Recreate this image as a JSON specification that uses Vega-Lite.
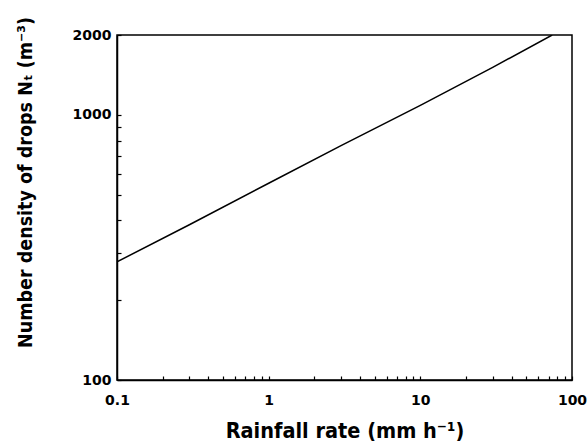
{
  "$schema": "https://vega.github.io/schema/vega-lite/v6.json",
  "width": 455,
  "height": 345,
  "autosize": "none",
  "padding": {"left": 117, "top": 35, "right": 16, "bottom": 63},
  "background": "white",
  "config": {
    "view": {"stroke": "black", "strokeWidth": 1.5},
    "axis": {
      "domainColor": "black",
      "domainWidth": 1.5,
      "tickColor": "black",
      "tickWidth": 1.2,
      "grid": false,
      "labelColor": "black",
      "titleColor": "black",
      "labelFont": "DejaVu Sans",
      "labelFontWeight": "bold",
      "labelFontSize": 14,
      "titleFont": "'DejaVu Sans Condensed', 'Liberation Sans', sans-serif",
      "titleFontWeight": "bold",
      "titleFontSize": 20
    }
  },
  "data": {
    "values": [
      {"rain": 0.1, "n": 279},
      {"rain": 0.3, "n": 385},
      {"rain": 1, "n": 552},
      {"rain": 3, "n": 765},
      {"rain": 10, "n": 1085},
      {"rain": 30, "n": 1510},
      {"rain": 74, "n": 2000}
    ]
  },
  "mark": {"type": "line", "color": "black", "strokeWidth": 1.5, "clip": true},
  "encoding": {
    "x": {
      "field": "rain",
      "type": "quantitative",
      "scale": {"type": "log", "domain": [0.1, 100], "nice": false},
      "axis": {
        "title": "Rainfall rate (mm h\u207B\u00B9)",
        "titleFontSize": 21.5,
        "values": [0.1, 0.2, 0.3, 0.4, 0.5, 0.6, 0.7, 0.8, 0.9, 1, 2, 3, 4, 5, 6, 7, 8, 9, 10, 20, 30, 40, 50, 60, 70, 80, 90, 100],
        "labelExpr": "indexof([0.1, 1, 10, 100], datum.value) >= 0 ? datum.label : ''",
        "format": "~g",
        "tickSize": -4,
        "labelPadding": 17,
        "labelBaseline": "top",
        "labelFlush": false,
        "labelOverlap": false,
        "titleY": 57,
        "titleBaseline": "alphabetic"
      }
    },
    "y": {
      "field": "n",
      "type": "quantitative",
      "scale": {"type": "log", "domain": [100, 2000], "nice": false},
      "axis": {
        "title": "Number density of drops N\u209C (m\u207B\u00B3)",
        "titleFontSize": 19.5,
        "values": [100, 200, 300, 400, 500, 600, 700, 800, 900, 1000, 2000],
        "labelExpr": "indexof([100, 1000, 2000], datum.value) >= 0 ? '' + datum.value : ''",
        "tickSize": -4,
        "labelPadding": 10,
        "labelFlush": false,
        "labelOverlap": false,
        "titleX": -86,
        "titleY": 147,
        "titleBaseline": "alphabetic",
        "titleAngle": -90
      }
    }
  }
}
